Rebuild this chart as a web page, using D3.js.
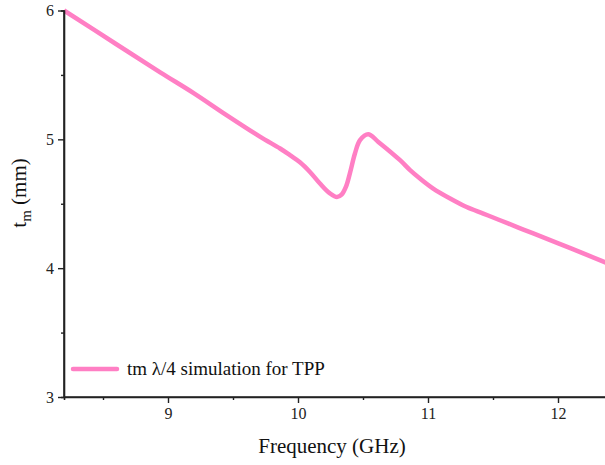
<!DOCTYPE html>
<html>
<head>
<meta charset="utf-8">
<script src="https://cdn.jsdelivr.net/npm/d3@7"></script>
<style>
  body { margin: 0; background: #fff; }
  svg { display: block; font-family: "Liberation Serif", "Times New Roman", serif; }
</style>
</head>
<body>
<div id="chart"></div>
<script>
// values
var freq = [8.2, 8.6, 8.94, 9.2, 9.45, 9.71, 9.862, 9.938, 10.015, 10.092, 10.169, 10.246, 10.30,
            10.335, 10.37, 10.40, 10.438, 10.477, 10.54, 10.618, 10.785, 10.862, 10.938, 11.04, 11.17,
            11.297, 11.425, 11.554, 11.695, 11.81, 12.1, 12.4];
var tm = [6.0, 5.74, 5.52, 5.357, 5.188, 5.019, 4.929, 4.877, 4.822, 4.747, 4.657, 4.58, 4.552,
          4.57, 4.635, 4.74, 4.89, 4.994, 5.04, 4.98, 4.838, 4.761, 4.696, 4.618, 4.541,
          4.475, 4.424, 4.372, 4.315, 4.27, 4.153, 4.03];
var xTicks = [9, 10, 11, 12];
var xMinor = [8.5, 9.5, 10.5, 11.5];
var yTicks = [3, 4, 5, 6];
var yMinor = [3.5, 4.5, 5.5];
var seriesName = "tm \u03bb/4 simulation for TPP";

var width = 605, height = 465;
var plotL = 64, plotR = 610, plotT = 10.5, plotB = 397;

var svg = d3.select("#chart").append("svg")
    .attr("width", width).attr("height", height);

var x = d3.scaleLinear().domain([8.2, 12.4]).range([plotL, plotR]);
var y = d3.scaleLinear().domain([3, 6]).range([plotB, plotT]);

svg.append("clipPath").attr("id", "plotclip")
   .append("rect").attr("x", plotL).attr("y", plotT - 5)
   .attr("width", plotR - plotL).attr("height", plotB - plotT + 5);

// curve
var line = d3.line()
    .x(function (d) { return x(d[0]); })
    .y(function (d) { return y(d[1]); })
    .curve(d3.curveCatmullRom.alpha(0.5));
var pts = freq.map(function (f, i) { return [f, tm[i]]; });
svg.append("path").datum(pts)
   .attr("clip-path", "url(#plotclip)")
   .attr("d", line)
   .attr("fill", "none")
   .attr("stroke", "#ff7fc4")
   .attr("stroke-width", 4.5)
   .attr("stroke-linejoin", "round");

// axes
var axisColor = "#222";
var gx = svg.append("g").attr("transform", "translate(0," + plotB + ")")
    .call(d3.axisBottom(x).tickValues(xTicks).tickSize(6).tickPadding(5).tickFormat(d3.format("d")));
var gxm = svg.append("g").attr("transform", "translate(0," + plotB + ")")
    .call(d3.axisBottom(x).tickValues(xMinor).tickSize(3).tickFormat(""));
var gy = svg.append("g").attr("transform", "translate(" + plotL + ",0)")
    .call(d3.axisLeft(y).tickValues(yTicks).tickSize(6).tickPadding(4).tickFormat(d3.format("d")));
var gym = svg.append("g").attr("transform", "translate(" + plotL + ",0)")
    .call(d3.axisLeft(y).tickValues(yMinor).tickSize(3).tickFormat(""));

[gx, gxm, gy, gym].forEach(function (g) {
    g.select(".domain").attr("stroke", axisColor).attr("stroke-width", 1.6);
    g.selectAll(".tick line").attr("stroke", axisColor).attr("stroke-width", 1.4);
    g.selectAll("text").attr("fill", "#222")
     .style("font-family", "Liberation Serif, serif").style("font-size", "16px");
});
gx.selectAll(".domain").attr("d", "M" + plotL + ",0H" + plotR);
gy.selectAll(".domain").attr("d", "M0," + plotB + "V" + plotT);

// axis titles
svg.append("text")
   .attr("x", 332).attr("y", 453)
   .attr("text-anchor", "middle")
   .style("font-size", "21px").attr("fill", "#111")
   .text("Frequency (GHz)");

var yl = svg.append("text")
   .attr("transform", "translate(26,193) rotate(-90)")
   .attr("text-anchor", "middle")
   .style("font-size", "21px").attr("fill", "#111");
yl.append("tspan").text("t");
yl.append("tspan").attr("dy", 5).style("font-size", "15px").text("m");
yl.append("tspan").attr("dy", -5).text(" (mm)");

// legend
var leg = svg.append("g");
leg.append("line")
   .attr("x1", 73).attr("x2", 117).attr("y1", 369).attr("y2", 369)
   .attr("stroke", "#ff7fc4").attr("stroke-width", 4.5).attr("stroke-linecap", "round");
leg.append("text")
   .attr("x", 127).attr("y", 375)
   .style("font-size", "19px").attr("fill", "#111")
   .text(seriesName);
</script>
</body>
</html>
